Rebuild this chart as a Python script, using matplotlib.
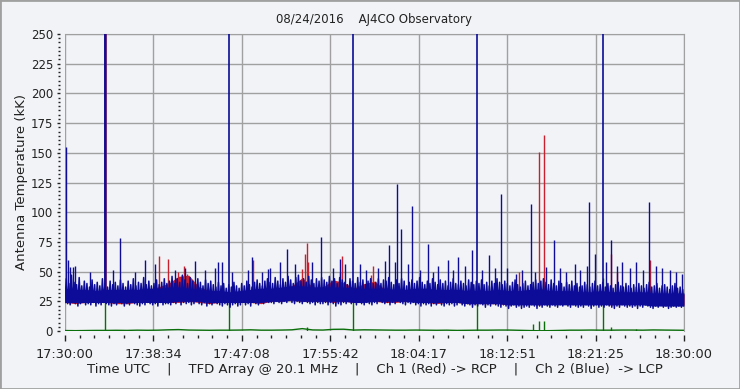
import numpy as np
import matplotlib
matplotlib.use("Agg")
import matplotlib.pyplot as plt
from matplotlib.patches import Rectangle

# time axis: seconds after 17:30:00 UTC
tick_labels = ["17:30:00", "17:38:34", "17:47:08", "17:55:42",
               "18:04:17", "18:12:51", "18:21:25", "18:30:00"]

# Ch 2 (blue) : noisy trace, min / max every 15 s (kK)
blue_hi = [44,40,47,41,39,45,38,42,40,37,43,39,41,38,44,40,37,42,39,41,
           38,43,40,37,42,39,44,38,41,40,45,39,42,38,40,43,39,41,44,40,
           42,46,40,44,41,47,43,40,45,42,39,44,41,38,43,40,42,39,37,41,
           38,40,36,39,37,41,38,36,40,38,42,39,37,41,43,40,38,42,44,41,
           40,45,42,39,44,41,46,43,40,45,47,42,44,41,46,43,40,44,42,45,
           43,41,46,42,44,40,45,43,41,39,44,42,40,45,41,43,39,42,44,40,
           41,44,40,43,42,45,41,39,43,40,44,42,38,41,43,40,42,45,41,39,
           42,40,44,41,39,43,40,42,38,41,44,40,39,42,40,38,43,41,39,42,
           40,43,39,41,38,42,40,44,41,39,42,40,38,41,43,39,37,40,42,38,
           39,41,43,40,42,44,41,39,43,40,38,42,40,37,41,39,42,38,40,37,
           38,41,39,37,40,42,38,39,41,37,40,38,36,39,41,38,37,40,38,36,
           39,37,40,38,36,39,41,37,38,40,36,38,39,37,35,38,40,36,37,35,
           36]
blue_lo = [24,23,22,24,23,21,23,24,22,23,22,24,21,23,22,24,23,22,21,23,
           22,24,23,21,23,22,24,23,22,21,23,22,24,23,22,23,21,24,22,23,
           23,22,24,23,25,22,24,23,24,22,23,25,23,22,24,21,23,22,24,23,
           22,21,23,22,20,22,23,21,22,24,22,23,21,24,23,22,24,23,25,24,
           24,23,25,24,23,25,24,26,24,23,25,24,23,25,24,23,24,22,24,23,
           23,24,22,24,23,21,23,22,24,23,25,23,24,22,24,23,22,24,23,22,
           24,23,25,24,23,24,22,24,23,25,24,23,22,24,23,24,22,23,21,23,
           22,23,21,23,22,24,22,21,23,22,23,21,22,24,22,21,23,22,20,22,
           21,23,22,20,22,21,23,22,21,20,22,21,19,21,22,20,21,19,20,21,
           20,22,21,19,21,20,22,21,20,22,21,20,22,21,23,21,20,22,21,20,
           21,20,22,21,19,21,22,20,21,20,22,21,20,19,21,20,22,21,20,21,
           20,21,19,21,20,22,21,20,19,21,20,22,20,21,19,20,21,20,21,20,
           21]
# dense part of the blue trace, one-minute values
blue_core_lo = [24,24,24,24,24,24,24,24,24,24,24,25,25,25,24,24,24,24,24,24,
                25,25,26,25,25,25,25,25,24,24,25,25,25,25,24,24,24,24,24,23,
                23,23,23,22,22,22,22,22,22,22,22,22,22,22,22,22,22,21,21,21,
                21]
blue_core_hi = [36,35,35,34,35,35,35,35,36,36,37,37,36,35,34,34,33,34,35,36,
                36,37,38,38,37,37,37,37,36,36,36,36,35,35,36,36,35,35,35,34,
                34,34,35,34,34,35,35,34,34,34,33,33,34,33,33,33,33,32,32,32,
                32]

# Ch 2 spikes (time s, kK)
blue_spike_t = [6, 17, 29, 44, 58, 145, 279, 322, 407, 465, 523, 640, 698, 756,
                814, 872, 888, 913, 971, 1064, 1088, 1146, 1183, 1192, 1250, 1291,
                1338, 1437, 1489, 1559, 1599, 1628, 1716, 1751, 1820, 1861, 1884,
                1919, 1931, 1954, 1995, 2018, 2065, 2111, 2140, 2169, 2228, 2257,
                2286, 2326, 2367, 2425, 2466, 2501, 2536, 2571, 2623, 2658, 2710,
                2734, 2798, 2844, 2879, 2914, 2966, 2995, 3036, 3048, 3082, 3146,
                3176, 3210, 3240, 3286, 3321, 3362, 3397, 3437, 3472, 3519, 3554,
                3589]
blue_spike_v = [155, 60, 54, 54, 55, 50, 51, 78, 50, 60, 56, 51, 53, 59,
                51, 53, 58, 58, 50, 51, 62, 50, 52, 53, 58, 69,
                56, 58, 79, 53, 61, 56, 56, 51, 53, 59, 72,
                58, 124, 86, 56, 105, 51, 73, 50, 55, 60, 51,
                62, 55, 68, 51, 64, 53, 115, 53, 48, 51, 107,
                50, 54, 77, 53, 50, 56, 51, 55, 109, 65, 58,
                77, 55, 58, 53, 58, 51, 109, 55, 53, 51, 50,
                48]
# off-scale bursts (> 250 kK)
blue_burst_t = [231, 956, 1677, 2398, 3127]

# Ch 1 (red), one-minute min / max
red_lo = [24,23,24,24,24,23,23,24,24,24,24,24,25,24,23,24,24,24,24,23,
          25,25,26,25,25,25,24,25,24,25,25,24,24,25,25,24,23,24,24,23,
          23,23,23,22,23,23,22,23,23,23,23,23,23,22,23,23,23,22,22,22,
          22]
red_hi = [34,33,33,33,34,34,34,34,35,37,40,46,47,37,34,33,32,33,34,36,
          35,36,38,45,37,37,43,41,36,40,42,35,34,34,35,36,34,33,34,33,
          33,33,34,32,33,34,36,34,32,33,32,32,33,32,31,32,32,31,30,31,
          31]
red_spike_t = [545, 597, 660, 690, 710, 1096, 1380, 1395, 1405, 1415, 1600,
               1611, 1780, 1789, 2641, 2759, 2788, 3177, 3210, 3404]
red_spike_v = [63, 61, 50, 55, 48, 60, 52, 65, 74, 58, 50,
               63, 47, 55, 50, 151, 165, 65, 50, 60]
red_burst_t = [231]

# green trace, one-minute values
green = [0.4,0.3,0.4,0.5,0.5,0.6,0.5,0.7,0.6,0.7,1.0,1.2,0.8,0.7,0.6,0.7,0.7,0.8,1.0,0.7,
         0.7,0.8,1.0,2.0,0.9,0.8,1.4,1.5,0.8,1.0,0.9,0.8,0.7,0.7,0.8,0.7,0.6,0.7,0.5,0.6,
         0.7,0.7,0.8,0.8,0.6,0.4,0.2,0.3,0.5,0.7,0.7,0.8,0.7,0.7,0.8,0.8,0.7,0.9,0.8,0.7,
         0.6]
green_spike_t = [231, 956, 1405, 1677, 2398, 2720, 2759, 2788, 3127, 3177, 3320]
green_spike_v = [26, 25, 3, 26, 30, 6, 8, 8, 45, 3, 2]

BLUE = "#0c0c98"
RED = "#c8202e"
GREEN = "#0a6e0a"
BG = "#f2f3f6"
TXT = "#222222"

t15 = np.arange(len(blue_hi)) * 15
t60 = np.arange(len(red_hi)) * 60
# trace goes low -> high inside every 15 s bin
zig_t = np.column_stack([t15, t15 + 7.5]).ravel()
zig_v = np.column_stack([blue_lo, blue_hi]).ravel()

fig = plt.figure(figsize=(7.40, 3.89), dpi=100, facecolor=BG)
ax = fig.add_axes([65/740, 58/389, 619/740, 297/389], facecolor=BG)

# green first (it sits under the others)
ax.plot(t60, green, color=GREEN, lw=1, zorder=2)
ax.vlines(green_spike_t, 0, green_spike_v, color=GREEN, lw=1, zorder=2)

# red
ax.fill_between(t60, red_lo, red_hi, color=RED, lw=0, zorder=3)
ax.vlines(red_spike_t, 30, red_spike_v, color=RED, lw=1, zorder=3)
ax.vlines(red_burst_t, 25, 300, color=RED, lw=1.8, zorder=3)

# blue
ax.fill_between(t60, blue_core_lo, blue_core_hi, color=BLUE, lw=0, zorder=4)
ax.plot(zig_t, zig_v, color=BLUE, lw=1.1, zorder=4)
ax.vlines(blue_spike_t, 30, blue_spike_v, color=BLUE, lw=1, zorder=4)
ax.vlines(blue_burst_t, 25, 300, color=BLUE, lw=1.2, zorder=4)
# both channels saturate together here -> purple
ax.vlines(red_burst_t, 25, 300, color=BLUE, lw=1.8, alpha=0.7, zorder=5)

ax.set_xlim(0, 3600)
ax.set_ylim(0, 250)
ax.set_xticks(np.linspace(0, 3600, 8))
ax.set_xticklabels(tick_labels)
ax.set_xticks(np.linspace(0, 3600, 43), minor=True)
ax.set_yticks(np.arange(0, 251, 25))
ax.set_yticks(np.arange(0, 251, 25/7), minor=True)

ax.grid(True, which="major", color="#a0a0a0", lw=1, zorder=1)
ax.set_axisbelow(True)
for s in ["top", "right"]:
    ax.spines[s].set_color("#a0a0a0")
ax.spines["left"].set_position(("outward", 3.6))
ax.spines["bottom"].set_position(("outward", 2.9))
ax.spines["left"].set_visible(False)
ax.spines["bottom"].set_visible(False)

ax.tick_params(axis="y", which="major", length=2.5, width=1, pad=2.5, labelsize=8.5, colors=TXT)
ax.tick_params(axis="y", which="minor", length=1.2, width=1, colors=TXT)
ax.tick_params(axis="x", which="major", length=4.5, width=1, pad=5, labelsize=9.3, colors=TXT)
ax.tick_params(axis="x", which="minor", length=2, width=1, colors=TXT)

ax.set_title("08/24/2016    AJ4CO Observatory", fontsize=8.5, pad=8, color=TXT)
ax.set_ylabel("Antenna Temperature (kK)", fontsize=9.5, labelpad=2, color=TXT)
ax.set_xlabel("Time UTC    |    TFD Array @ 20.1 MHz    |    Ch 1 (Red) -> RCP    |    "
              "Ch 2 (Blue)  -> LCP", fontsize=9.5, labelpad=1, color=TXT)

fig.add_artist(Rectangle((0, 0), 1, 1, transform=fig.transFigure, fill=False,
                         edgecolor="#a0a0a0", lw=2))

fig.savefig("out.png", dpi=100, facecolor=BG)
